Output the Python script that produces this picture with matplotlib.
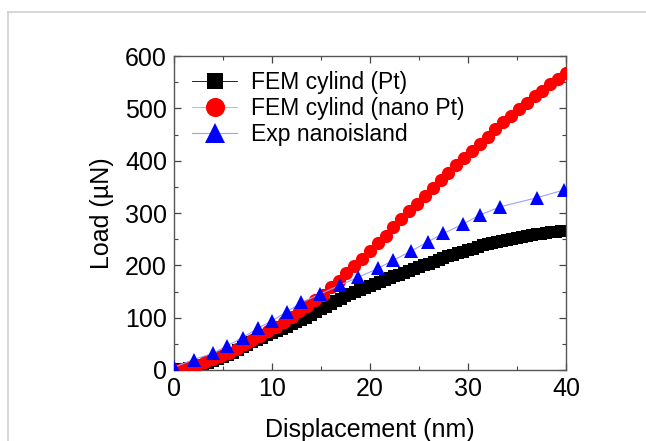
import numpy as np
import matplotlib.pyplot as plt
from matplotlib.lines import Line2D
from matplotlib.ticker import MultipleLocator

plt.rcParams['font.family'] = ['Liberation Sans', 'DejaVu Sans']

# FEM cylinder, bulk Pt properties (displacement in nm, load in uN)
disp_pt = [0.0, 0.5, 1.0, 1.5, 2.0, 2.5, 3.0, 3.5, 4.0, 4.5,
           5.0, 5.5, 6.0, 6.5, 7.0, 7.5, 8.0, 8.5, 9.0, 9.5,
           10.0, 10.5, 11.0, 11.5, 12.0, 12.5, 13.0, 13.5, 14.0, 14.5,
           15.0, 15.5, 16.0, 16.5, 17.0, 17.5, 18.0, 18.5, 19.0, 19.5,
           20.0, 20.5, 21.0, 21.5, 22.0, 22.5, 23.0, 23.5, 24.0, 24.5,
           25.0, 25.5, 26.0, 26.5, 27.0, 27.5, 28.0, 28.5, 29.0, 29.5,
           30.0, 30.5, 31.0, 31.5, 32.0, 32.5, 33.0, 33.5, 34.0, 34.5,
           35.0, 35.5, 36.0, 36.5, 37.0, 37.5, 38.0, 38.5, 39.0, 39.5, 40.0]
load_pt = [0, 1, 2, 3.5, 5, 7, 10, 13, 17, 21,
           25, 29, 33, 38, 43, 48, 53, 58, 62, 66,
           70, 74, 78, 83, 87, 91, 96, 100, 105, 110,
           116, 121, 126, 131, 136, 141, 145, 149, 153, 157,
           161, 165, 168, 172, 175, 179, 182, 186, 189, 193,
           196, 200, 203, 207, 210, 214, 217, 220, 223, 226,
           229, 232, 235, 238, 240, 243, 245, 247, 249, 251,
           253, 255, 256, 258, 259, 260, 262, 263, 264, 265, 266]

# FEM cylinder, nanocrystalline Pt properties
disp_nano = [0.0, 0.8, 1.6, 2.4, 3.2, 4.0, 4.8, 5.6, 6.4, 7.2,
             8.0, 8.8, 9.6, 10.4, 11.2, 12.0, 12.8, 13.6, 14.4, 15.2,
             16.0, 16.8, 17.6, 18.4, 19.2, 20.0, 20.8, 21.6, 22.4, 23.2,
             24.0, 24.8, 25.6, 26.4, 27.2, 28.0, 28.8, 29.6, 30.4, 31.2,
             32.0, 32.8, 33.6, 34.4, 35.2, 36.0, 36.8, 37.6, 38.4, 39.2, 40.0]
load_nano = [0, 2, 5, 10, 16, 21, 27, 33, 41, 49,
             57, 65, 74, 83, 92, 102, 112, 122, 133, 144,
             158, 171, 185, 199, 213, 228, 242, 257, 273, 288,
             303, 318, 333, 348, 363, 377, 391, 405, 419, 432,
             446, 460, 473, 486, 498, 511, 523, 534, 546, 557, 568]

# Experimental nanoisland
disp_exp = [0.0, 2.0, 4.0, 5.4, 7.0, 8.6, 10.0, 11.5, 13.0, 14.9, 16.9,
            18.8, 20.8, 22.4, 24.2, 25.9, 27.5, 29.5, 31.2, 33.3, 37.0, 39.8]
load_exp = [5, 20, 32, 46, 62, 80, 94, 111, 129, 145, 162,
            177, 194, 210, 227, 245, 261, 279, 296, 312, 329, 344]

fig = plt.figure(figsize=(6.46, 4.41), dpi=100)
ax = fig.add_axes([0.2693, 0.161, 0.6068, 0.712])

ax.plot(disp_pt, load_pt, '-s', color='black', lw=0.6, ms=8,
        mec='black', mew=0, label='FEM cylind (Pt)', zorder=2)
ax.plot(disp_nano, load_nano, '-o', color='#ff9090', mfc='red', mec='red',
        lw=0.6, ms=9.5, mew=0, label='FEM cylind (nano Pt)', zorder=3)
ax.plot(disp_exp, load_exp, '-^', color='#9aa0ff', mfc='#0000ff', mec='#0000ff',
        lw=0.8, ms=10, mew=0, label='Exp nanoisland', zorder=4)

ax.set_xlim(0, 40)
ax.set_ylim(0, 600)
ax.xaxis.set_major_locator(MultipleLocator(10))
ax.xaxis.set_minor_locator(MultipleLocator(5))
ax.yaxis.set_major_locator(MultipleLocator(100))
ax.yaxis.set_minor_locator(MultipleLocator(50))
ax.tick_params(which='both', direction='in', top=True, right=True,
               color='#444444', labelsize=18, pad=5)
ax.tick_params(which='major', length=5, width=0.9)
ax.tick_params(which='minor', length=3, width=0.8)
for s in ax.spines.values():
    s.set_color('#555555')
    s.set_linewidth(1.0)

ax.set_xlabel('Displacement (nm)', fontsize=18, labelpad=12)
ax.set_ylabel('Load (\u00b5N)', fontsize=18, labelpad=8)

leg = ax.legend(loc='upper left', frameon=False, fontsize=16.5,
                markerscale=1.45, handlelength=2.0, handletextpad=0.6,
                labelspacing=0.12, borderaxespad=0.2,
                bbox_to_anchor=(0.01, 0.995))

# light frame around the figure (top and left edges)
fig.add_artist(Line2D([8 / 646, 1.0], [1 - 12 / 441, 1 - 12 / 441],
                      transform=fig.transFigure, color='#d0d0d0', lw=1.2))
fig.add_artist(Line2D([8 / 646, 8 / 646], [0.0, 1 - 12 / 441],
                      transform=fig.transFigure, color='#d0d0d0', lw=1.2))

fig.savefig('out.png', dpi=100)
